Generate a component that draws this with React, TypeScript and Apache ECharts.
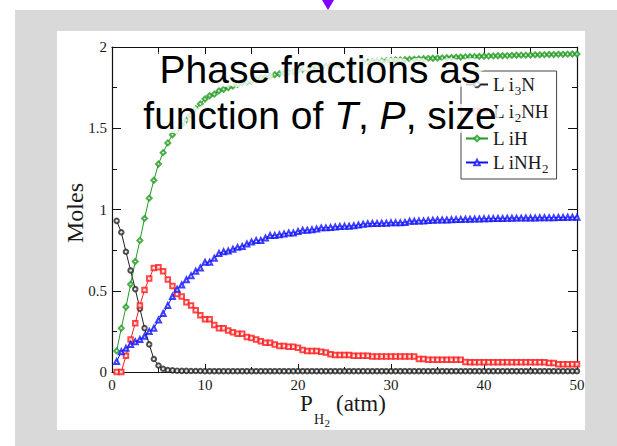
import React, { useEffect, useRef } from "react";
import * as echarts from "echarts";

// Hydrogen pressure P_H2 (atm)
const pressures = [
  0.5, 1, 1.5, 2, 2.5, 3, 3.5, 4, 4.5, 5,
  5.5, 6, 6.5, 7, 7.5, 8, 8.5, 9, 9.5, 10,
  10.5, 11, 11.5, 12, 12.5, 13, 13.5, 14, 14.5, 15,
  15.5, 16, 16.5, 17, 17.5, 18, 18.5, 19, 19.5, 20,
  20.5, 21, 21.5, 22, 22.5, 23, 23.5, 24, 24.5, 25,
  25.5, 26, 26.5, 27, 27.5, 28, 28.5, 29, 29.5, 30,
  30.5, 31, 31.5, 32, 32.5, 33, 33.5, 34, 34.5, 35,
  35.5, 36, 36.5, 37, 37.5, 38, 38.5, 39, 39.5, 40,
  40.5, 41, 41.5, 42, 42.5, 43, 43.5, 44, 44.5, 45,
  45.5, 46, 46.5, 47, 47.5, 48, 48.5, 49, 49.5, 50,
];

const li3n = [
  0.93, 0.86, 0.74, 0.625, 0.51, 0.39, 0.27, 0.17, 0.08, 0.04,
  0.02, 0.012, 0.01, 0.008, 0.007, 0.007, 0.006, 0.006, 0.006, 0.005,
  0.005, 0.005, 0.005, 0.005, 0.005, 0.005, 0.005, 0.005, 0.005, 0.005,
  0.005, 0.005, 0.005, 0.005, 0.005, 0.005, 0.005, 0.005, 0.005, 0.005,
  0.005, 0.005, 0.005, 0.005, 0.005, 0.005, 0.005, 0.005, 0.005, 0.005,
  0.005, 0.005, 0.005, 0.005, 0.005, 0.005, 0.005, 0.005, 0.005, 0.005,
  0.005, 0.005, 0.005, 0.005, 0.005, 0.005, 0.005, 0.005, 0.005, 0.005,
  0.005, 0.005, 0.005, 0.005, 0.005, 0.005, 0.005, 0.005, 0.005, 0.005,
  0.005, 0.005, 0.005, 0.005, 0.005, 0.005, 0.005, 0.005, 0.005, 0.005,
  0.005, 0.005, 0.005, 0.005, 0.005, 0.005, 0.005, 0.005, 0.005, 0.005,
];

const li2nh = [
  0, 0, 0.1, 0.2, 0.3, 0.41, 0.505, 0.575, 0.64, 0.645,
  0.62, 0.57, 0.53, 0.48, 0.465, 0.43, 0.41, 0.38, 0.35, 0.325,
  0.325, 0.29, 0.27, 0.27, 0.255, 0.245, 0.235, 0.235, 0.215, 0.21,
  0.2, 0.19, 0.18, 0.18, 0.17, 0.16, 0.16, 0.155, 0.155, 0.15,
  0.135, 0.13, 0.13, 0.13, 0.125, 0.12, 0.11, 0.105, 0.105, 0.105,
  0.105, 0.1, 0.1, 0.1, 0.1, 0.095, 0.095, 0.095, 0.095, 0.095,
  0.095, 0.095, 0.095, 0.095, 0.095, 0.08, 0.08, 0.075, 0.075, 0.075,
  0.075, 0.075, 0.075, 0.075, 0.075, 0.062, 0.06, 0.06, 0.06, 0.06,
  0.06, 0.06, 0.06, 0.06, 0.06, 0.06, 0.06, 0.06, 0.06, 0.06,
  0.06, 0.06, 0.06, 0.055, 0.055, 0.048, 0.048, 0.048, 0.048, 0.048,
];

const lih = [
  0.13, 0.27, 0.4, 0.54, 0.68, 0.81, 0.945, 1.07, 1.18, 1.28,
  1.35, 1.41, 1.46, 1.49, 1.52, 1.55, 1.58, 1.62, 1.65, 1.68,
  1.7, 1.71, 1.73, 1.74, 1.75, 1.76, 1.77, 1.78, 1.785, 1.79,
  1.8, 1.81, 1.815, 1.82, 1.83, 1.835, 1.84, 1.845, 1.85, 1.855,
  1.86, 1.865, 1.87, 1.875, 1.878, 1.88, 1.885, 1.888, 1.89, 1.895,
  1.898, 1.9, 1.903, 1.905, 1.907, 1.91, 1.912, 1.913, 1.915, 1.917,
  1.92, 1.921, 1.922, 1.924, 1.925, 1.927, 1.928, 1.93, 1.931, 1.932,
  1.933, 1.934, 1.935, 1.937, 1.938, 1.939, 1.94, 1.941, 1.942, 1.943,
  1.944, 1.945, 1.946, 1.946, 1.947, 1.948, 1.949, 1.95, 1.95, 1.951,
  1.952, 1.952, 1.953, 1.954, 1.954, 1.955, 1.955, 1.956, 1.957, 1.957,
];

const linh2 = [
  0.064, 0.125, 0.146, 0.17, 0.186, 0.2, 0.22, 0.25, 0.27, 0.32,
  0.36, 0.41, 0.465, 0.51, 0.535, 0.568, 0.593, 0.62, 0.64, 0.675,
  0.675, 0.7, 0.73, 0.74, 0.745, 0.755, 0.767, 0.772, 0.788, 0.8,
  0.81, 0.81, 0.825, 0.84, 0.84, 0.845, 0.85, 0.856, 0.856, 0.865,
  0.872, 0.872, 0.875, 0.88, 0.887, 0.887, 0.89, 0.893, 0.895, 0.897,
  0.897, 0.9, 0.905, 0.91, 0.912, 0.914, 0.914, 0.915, 0.916, 0.918,
  0.918, 0.918, 0.92, 0.928, 0.928, 0.93, 0.93, 0.932, 0.934, 0.935,
  0.936, 0.936, 0.937, 0.938, 0.939, 0.94, 0.94, 0.941, 0.942, 0.943,
  0.943, 0.944, 0.945, 0.945, 0.946, 0.946, 0.947, 0.947, 0.948, 0.948,
  0.948, 0.949, 0.949, 0.95, 0.95, 0.951, 0.951, 0.952, 0.952, 0.953,
];

const seriesNames = ["Li3N", "Li2NH", "LiH", "LiNH2"];
const legendLabels: Record<string, string> = {
  Li3N: "{n|L i}{s|3}{n|N}",
  Li2NH: "{n|L i}{s|2}{n|NH}",
  LiH: "{n|L iH}",
  LiNH2: "{n|L iNH}{s|2}",
};

const SERIF = "Liberation Serif";
const SANS = "Liberation Sans";

export default function App() {
  const ref = useRef<HTMLDivElement>(null);

  useEffect(() => {
    if (!ref.current) return;
    const chart = echarts.init(ref.current, null, { renderer: "svg" });
    const pairs = (ys: number[]) => pressures.map((x, i) => [x, ys[i]]);

    const mk = (name: string, ys: number[], color: string, symbol: string, size: number) => ({
      name,
      type: "line",
      data: pairs(ys),
      symbol,
      symbolSize: size,
      showSymbol: true,
      lineStyle: { color, width: 1 },
      itemStyle: { color, borderWidth: 0.9, opacity: 0.8 },
      z: 3,
    });

    const titleStyle = {
      fontFamily: SANS,
      fontSize: 39,
      fill: "#000",
      stroke: "rgba(255,255,255,0.8)",
      lineWidth: 8,
      align: "center",
      verticalAlign: "middle",
    };

    const axisCommon = {
      axisLine: { show: true, onZero: false, lineStyle: { color: "#111", width: 1.2 } },
      splitLine: { show: false },
    };

    chart.setOption({
      animation: false,
      backgroundColor: "#fff",
      grid: { left: 112, top: 47, right: 40, bottom: 74, containLabel: false },
      xAxis: [
        {
          type: "value",
          min: 0,
          max: 50,
          interval: 10,
          ...axisCommon,
          axisTick: { show: true, inside: true, length: 8, lineStyle: { color: "#111" } },
          minorTick: { show: true, splitNumber: 2, length: 5, lineStyle: { color: "#111" } },
          axisLabel: { fontFamily: SERIF, fontSize: 15, color: "#1a1a1a", margin: 5 },
        },
        {
          type: "value",
          position: "top",
          min: 0,
          max: 50,
          interval: 5,
          ...axisCommon,
          axisTick: { show: true, inside: true, length: 7, lineStyle: { color: "#111" } },
          axisLabel: { show: false },
        },
      ],
      yAxis: [
        {
          type: "value",
          min: 0,
          max: 2,
          interval: 0.5,
          ...axisCommon,
          axisTick: { show: true, inside: true, length: 9, lineStyle: { color: "#111" } },
          minorTick: { show: true, splitNumber: 2, length: 5, lineStyle: { color: "#111" } },
          axisLabel: { fontFamily: SERIF, fontSize: 15, color: "#1a1a1a", margin: 5 },
        },
        {
          type: "value",
          position: "right",
          min: 0,
          max: 2,
          interval: 0.5,
          ...axisCommon,
          axisTick: { show: true, inside: true, length: 9, lineStyle: { color: "#111" } },
          minorTick: { show: true, splitNumber: 2, length: 5, lineStyle: { color: "#111" } },
          axisLabel: { show: false },
        },
      ],
      legend: {
        data: seriesNames,
        orient: "vertical",
        left: 461,
        top: 71,
        padding: [4, 8, 4, 4],
        itemGap: 5,
        itemWidth: 22,
        itemHeight: 7,
        borderColor: "#444",
        borderWidth: 1,
        backgroundColor: "#fff",
        z: 6,
        formatter: (name: string) => legendLabels[name],
        textStyle: {
          rich: {
            n: { fontFamily: SERIF, fontSize: 19, color: "#1a1a1a" },
            s: { fontFamily: SERIF, fontSize: 13, color: "#1a1a1a", padding: [12, 0, 0, 0] },
          },
        },
      },
      series: [
        mk("Li3N", li3n, "#222222", "emptyCircle", 4.5),
        mk("Li2NH", li2nh, "#ff1a1a", "emptyRect", 4.5),
        mk("LiH", lih, "#1f9a1f", "emptyDiamond", 5),
        mk("LiNH2", linh2, "#1010ff", "emptyTriangle", 5),
      ],
      graphic: [
        { type: "rect", z: -10, silent: true, shape: { x: 15, y: 10, width: 602, height: 436 }, style: { fill: "#d9d9d9" } },
        { type: "rect", z: -9, silent: true, shape: { x: 57, y: 31, width: 528, height: 399 }, style: { fill: "#ffffff" } },
        { type: "polygon", z: -8, silent: true, shape: { points: [[322, 0], [334, 0], [328, 10]] }, style: { fill: "#8000ff" } },
        {
          type: "text",
          z: 20,
          x: 320,
          y: 69,
          style: { ...titleStyle, text: "Phase fractions as" },
        },
        {
          type: "text",
          z: 20,
          x: 320,
          y: 115,
          style: {
            ...titleStyle,
            text: "function of {i|T}, {i|P}, size",
            rich: {
              i: {
                fontFamily: SANS,
                fontSize: 39,
                fontStyle: "italic",
                fill: "#000",
                stroke: "rgba(255,255,255,0.8)",
                lineWidth: 8,
              },
            },
          },
        },
        {
          type: "text",
          z: 20,
          x: 75,
          y: 213,
          rotation: Math.PI / 2,
          style: { text: "Moles", fontFamily: SERIF, fontSize: 24, fill: "#1a1a1a", align: "center", verticalAlign: "middle" },
        },
        {
          type: "text",
          z: 20,
          x: 300,
          y: 403,
          style: { text: "P", fontFamily: SERIF, fontSize: 23, fill: "#1a1a1a", align: "left", verticalAlign: "middle" },
        },
        {
          type: "text",
          z: 20,
          x: 314,
          y: 419,
          style: { text: "H", fontFamily: SERIF, fontSize: 14, fill: "#1a1a1a", align: "left", verticalAlign: "middle" },
        },
        {
          type: "text",
          z: 20,
          x: 324.5,
          y: 423,
          style: { text: "2", fontFamily: SERIF, fontSize: 11, fill: "#1a1a1a", align: "left", verticalAlign: "middle" },
        },
        {
          type: "text",
          z: 20,
          x: 336,
          y: 403,
          style: { text: "(atm)", fontFamily: SERIF, fontSize: 23, fill: "#1a1a1a", align: "left", verticalAlign: "middle" },
        },
      ],
    });

    return () => chart.dispose();
  }, []);

  return (
    <div
      ref={ref}
      style={{ position: "fixed", left: 0, top: 0, width: 617, height: 446 }}
    />
  );
}
